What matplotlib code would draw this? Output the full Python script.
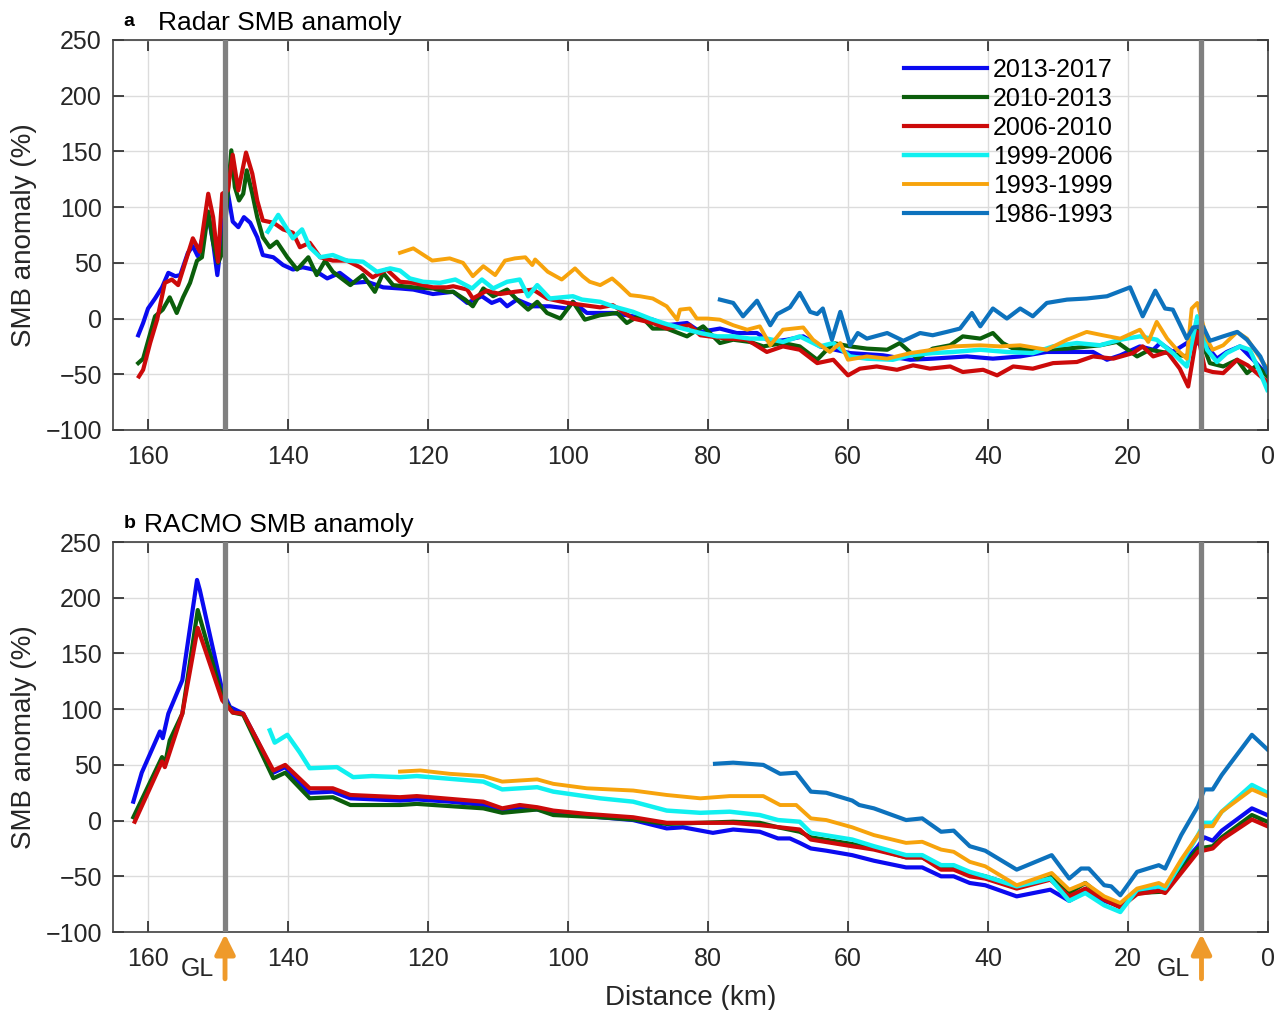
import matplotlib
matplotlib.use('agg')
import matplotlib.pyplot as plt

plt.rcParams['font.family'] = ['Liberation Sans', 'DejaVu Sans']

# ---- panel a: radar SMB anomaly (%) vs distance (km) ----
radar_1317_km = [161.4, 160.7, 160.0, 159.0, 158.0, 157.1, 156.1, 155.4, 154.3, 153.6, 152.9, 151.4, 150.7, 150.1, 149.3,
                 148.6, 147.9, 147.1, 146.3, 145.4, 144.4, 143.6, 142.1, 140.7, 139.3, 137.9, 136.4, 134.4, 132.6, 130.7,
                 128.7, 126.4, 124.0, 122.1, 119.3,
                 116.4, 114.4, 112.3, 110.9, 109.7, 108.7, 107.3, 105.0, 102.6, 100.1, 99.3, 97.3, 93.6, 90.7, 87.9,
                 85.9, 83.0, 81.1, 78.3, 75.9, 73.0, 71.1, 68.7, 66.4, 64.0,
                 59.7, 55.0, 51.1, 47.9, 43.0, 39.3, 35.4, 31.6, 28.7, 25.0, 23.0, 21.1, 18.3, 16.4, 15.4, 13.6, 11.1,
                 8.7, 7.3, 5.9, 4.0, 2.1, 0.1]
radar_1317 = [-15, -4, 9, 18, 28, 41, 38, 39, 59, 65, 56, 93, 68, 39, 82,
              113, 87, 82, 91, 86, 73, 57, 55, 48, 44, 46, 44, 36, 41, 32,
              33, 28, 27, 26, 22,
              24, 14, 20, 14, 17, 11, 17, 11, 11, 9, 15, 5, 5, 2, -1,
              -6, -4, -12, -9, -13, -13, -21, -19, -16, -25,
              -31, -33, -37, -36, -34, -36, -34, -30, -30, -30, -37, -33, -25, -28, -22, -30, -20,
              -25, -36, -30, -25, -37, -51]

radar_1013_km = [161.4, 160.7, 159.0, 157.9, 156.9, 155.9, 155.0, 154.0, 153.0, 152.3, 151.4, 150.7, 150.0, 149.3,
                 148.1, 147.6, 147.0, 146.4, 145.9, 145.1, 144.4, 143.6, 142.6, 141.6, 140.1, 138.7, 137.1, 135.9,
                 134.7, 133.6, 131.1, 129.3, 127.6, 126.4, 125.0, 122.1, 119.3, 117.3,
                 116.4, 114.7, 113.6, 112.1, 110.7, 108.7, 107.3, 105.7, 104.4, 103.0, 101.1, 99.3, 97.6, 95.4, 93.0,
                 91.6, 89.7, 87.9, 85.9, 83.0, 80.7, 78.3, 76.4, 74.0, 72.1, 69.3, 66.9, 64.4, 62.1, 59.7,
                 57.3, 54.4, 52.6, 50.1, 47.9, 45.4, 43.6, 41.1, 39.3, 37.9, 36.4, 33.6, 28.7, 24.0, 21.6, 18.7,
                 16.9, 11.6, 10.1, 8.3, 6.4, 4.4, 3.0, 1.6, 0.1]
radar_1013 = [-40, -36, 2, 8, 19, 5, 19, 32, 52, 55, 96, 68, 50, 60,
              151, 118, 106, 112, 133, 112, 91, 73, 64, 69, 55, 44, 55, 39,
              52, 42, 30, 39, 24, 41, 30, 28, 27, 24,
              24, 17, 11, 27, 20, 26, 17, 8, 15, 5, 0, 15, -1, 3, 5,
              -4, 3, -9, -9, -16, -7, -22, -19, -21, -25, -22, -25, -37, -22, -25,
              -27, -28, -22, -36, -27, -24, -16, -18, -13, -22, -27, -28, -27, -24, -21, -34,
              -28, -34, -10, -40, -43, -37, -49, -42, -52]

radar_0610_km = [161.3, 160.7, 159.7, 158.7, 157.6, 156.6, 155.7, 154.7, 153.6, 152.6, 151.4, 150.7, 150.0, 149.4,
                 148.6, 147.9, 147.1, 146.0, 145.1, 144.4, 143.6, 142.1, 140.7, 139.3, 138.3, 136.9, 135.4, 133.6,
                 131.6, 129.7, 127.9, 125.9, 124.0, 122.1, 119.3, 117.3,
                 116.4, 114.4, 113.6, 111.6, 109.7, 107.6, 105.0, 103.0, 100.1, 95.4, 93.6, 90.7, 87.9, 85.9, 82.6,
                 81.1, 77.3, 74.4, 71.6, 69.3, 66.9, 64.4, 62.1, 60.0,
                 58.3, 55.9, 53.0, 50.7, 48.3, 45.4, 43.6, 40.7, 38.7, 36.4, 33.6, 30.7, 27.3, 25.0, 22.1, 19.3,
                 17.9, 16.4, 14.4, 12.6, 11.4, 10.1, 9.0, 7.9, 6.4, 4.4, 2.9, 0.1]
radar_0610 = [-52, -46, -22, -1, 32, 35, 30, 50, 72, 60, 112, 91, 51, 112,
              115, 147, 115, 149, 130, 106, 88, 86, 80, 77, 64, 68, 55, 52,
              52, 46, 37, 44, 33, 32, 28, 28,
              29, 26, 18, 25, 22, 24, 26, 18, 14, 10, 12, 0, -4, -9, -6,
              -15, -18, -19, -30, -25, -28, -40, -37, -51,
              -45, -43, -46, -42, -45, -43, -48, -46, -51, -43, -45, -40, -39, -34, -36, -31,
              -25, -34, -30, -45, -61, -12, -46, -48, -49, -37, -42, -57]

radar_9906_km = [142.9, 141.4, 140.1, 139.3, 138.0, 136.9, 135.4, 133.6, 131.6, 129.3, 127.3, 125.4, 124.0,
                 122.6, 120.7, 118.3, 116.1, 113.7, 112.3, 110.7, 108.7, 106.9, 105.7, 104.4, 102.6, 99.3, 98.0,
                 95.4, 93.6, 90.7, 87.9, 85.9, 83.6, 81.1, 78.7, 76.4, 74.0, 71.6, 69.3, 66.9, 64.0, 62.1,
                 59.7, 57.3, 53.6, 51.1, 47.9, 45.0, 41.1, 37.3, 33.6, 30.7, 27.3, 24.0, 21.1, 18.3, 15.9, 13.6,
                 11.6, 10.1, 8.7, 7.3, 5.9, 4.0, 2.6, 1.1, 0.1]
radar_9906 = [78, 93, 80, 72, 80, 64, 55, 57, 52, 51, 42, 45, 43,
              36, 33, 32, 35, 27, 35, 27, 33, 35, 20, 30, 18, 20, 17,
              15, 11, 6, -1, -5, -9, -13, -16, -16, -18, -18, -21, -16, -25, -22,
              -34, -36, -37, -33, -31, -30, -28, -30, -31, -25, -22, -24, -19, -16, -19, -31,
              -43, 2, -28, -39, -31, -25, -28, -49, -64]

radar_9399_km = [124.0, 122.1, 119.4, 116.9, 115.0, 113.6, 112.1, 110.4, 109.0, 107.6, 106.1, 105.1, 104.7,
                 102.9, 100.9, 99.0, 97.9, 96.9, 95.4, 93.7, 92.6, 91.1, 89.7, 87.9, 85.9, 84.4, 84.0, 82.6,
                 81.6, 80.1, 78.3, 76.4, 74.4, 72.6, 71.1, 69.3, 66.4, 65.0, 62.6, 61.1, 60.0,
                 57.3, 54.4, 51.1, 47.9, 45.0, 41.1, 38.3, 35.4, 31.6, 28.7, 25.9, 23.6, 21.1, 18.3, 17.1, 15.9,
                 14.4, 13.0, 11.6, 10.9, 10.1, 8.7, 7.9, 6.4, 4.4, 3.0, 1.6, 0.1]
radar_9399 = [59, 63, 52, 54, 50, 38, 47, 39, 52, 54, 55, 48, 53,
              42, 35, 45, 38, 33, 30, 36, 30, 21, 20, 18, 11, -1, 8, 9,
              0, 0, -1, -6, -10, -7, -24, -10, -8, -19, -30, -22, -37,
              -34, -36, -31, -28, -25, -24, -25, -24, -28, -19, -12, -15, -18, -10, -21, -3,
              -18, -28, -36, 9, 14, -19, -28, -24, -12, -18, -31, -45]

radar_8693_km = [78.3, 76.4, 75.0, 73.0, 71.1, 70.1, 68.3, 66.9, 65.4, 64.4, 63.6, 62.3, 61.1,
                 59.7, 58.6, 57.3, 54.4, 52.1, 49.7, 47.9, 45.9, 44.0, 42.3, 41.1, 39.3, 37.3, 35.4, 33.6,
                 31.6, 28.7, 25.9, 23.0, 19.7, 17.9, 16.1, 14.7, 13.6, 11.6, 10.7, 9.3, 8.3, 6.4, 4.4, 3.0,
                 1.1, 0.1]
radar_8693 = [17, 14, 2, 16, -6, 4, 10, 23, 6, 4, 9, -19, 6,
              -24, -13, -18, -13, -20, -13, -15, -12, -9, 5, -7, 9, 0, 9, 2,
              14, 17, 18, 20, 28, 2, 25, 9, 8, -18, -8, -7, -20, -16, -12, -19,
              -34, -48]

# ---- panel b: RACMO SMB anomaly (%) ----
racmo_1317_km = [162.1, 160.9, 158.3, 157.9, 157.1, 155.7, 155.1, 153.0, 152.6, 149.4, 148.3, 146.4, 144.4,
                 142.1, 140.4, 138.7, 136.9, 133.6, 131.1, 124.0, 121.6, 116.9,
                 112.1, 109.4, 106.9, 104.4, 102.1, 95.4, 90.7, 85.9, 83.6, 79.3, 76.4, 72.6, 70.0, 68.3, 66.9,
                 65.3, 63.1, 59.4, 56.3, 51.7, 49.4, 46.7, 44.9, 42.6, 40.4, 35.9, 31.1, 28.4, 26.1, 23.4, 21.1,
                 18.7, 15.6, 14.7, 12.4, 10.0, 9.1, 7.9, 6.6, 2.3, 0.1]
racmo_1317 = [17, 43, 80, 74, 96, 117, 126, 216, 207, 117, 102, 96, 72,
              43, 48, 36, 25, 26, 20, 18, 19, 17,
              14, 9, 11, 10, 7, 3, 0.5, -7, -6, -11, -8, -10, -16, -16, -20,
              -25, -27, -31, -36, -42, -42, -50, -50, -56, -58, -68, -62, -72, -64, -72, -77,
              -65, -59, -61, -40, -23, -15, -18, -9, 11, 5]

racmo_1013_km = [162.1, 158.0, 157.6, 156.9, 155.1, 152.9, 149.4, 147.9, 146.4, 142.1, 140.4, 136.9, 133.6,
                 131.1, 124.0, 121.6, 112.1, 109.4, 104.4, 102.1, 95.4, 90.7, 85.9, 76.4, 72.6, 70.0, 66.9,
                 65.3, 59.4, 56.3, 51.7, 49.4, 46.7, 44.9, 42.6, 40.4, 35.9, 31.1, 28.4, 26.1, 23.4, 21.1,
                 18.7, 15.6, 14.7, 12.4, 10.0, 7.9, 6.6, 2.3, 0.1]
racmo_1013 = [3, 57, 50, 72, 96, 189, 111, 97, 95, 38, 43, 20, 21,
              14, 14, 15, 11, 7, 10, 5, 3, 1, -3, -1, -2, -6, -10,
              -15, -21, -25, -33, -33, -41, -43, -47, -50, -59, -50, -65, -56, -70, -76,
              -65, -64, -64, -44, -25, -23, -15, 5, -1]

racmo_0610_km = [161.9, 158.0, 157.6, 155.1, 152.9, 149.4, 147.9, 146.4, 142.1, 140.4, 136.9, 133.6, 131.1,
                 124.0, 121.6, 112.1, 109.4, 106.9, 104.4, 102.1, 97.3, 90.7, 85.9, 81.1, 76.4, 72.6, 66.9,
                 65.3, 59.4, 56.3, 51.7, 49.4, 46.7, 44.9, 42.6, 40.4, 35.9, 31.1, 28.4, 26.1, 23.4, 21.1,
                 18.7, 15.6, 14.7, 12.4, 10.0, 7.9, 6.6, 2.3, 0.1]
racmo_0610 = [-1, 53, 48, 96, 173, 108, 97, 96, 45, 50, 29, 29, 23,
              21, 22, 17, 11, 14, 12, 9, 6, 3, -2, -2, -2, -4, -8,
              -17, -23, -26, -33, -33, -44, -44, -50, -52, -61, -53, -68, -61, -71, -78,
              -66, -63, -65, -47, -28, -25, -17, 1, -5]

racmo_9906_km = [142.6, 141.9, 140.1, 138.3, 136.9, 133.0, 130.7, 128.0, 124.0, 121.6, 112.1, 109.4, 104.4,
                 102.1, 95.4, 90.7, 85.9, 81.1, 76.9, 72.6, 70.0, 66.9,
                 65.3, 59.4, 56.3, 51.7, 49.4, 46.7, 44.9, 42.6, 40.4, 35.9, 31.1, 28.4, 26.1, 23.4, 21.1,
                 18.7, 15.6, 14.7, 12.4, 10.0, 9.1, 7.9, 6.6, 2.3, 0.1]
racmo_9906 = [81, 70, 77, 61, 47, 48, 39, 40, 39, 40, 35, 28, 30,
              26, 20, 17, 9, 7, 8, 5, 0.5, -1,
              -11, -17, -23, -31, -31, -40, -40, -46, -50, -59, -52, -72, -65, -76, -82,
              -62, -59, -61, -38, -13, -2, -2, 8, 32, 25]

racmo_9399_km = [124.0, 121.1, 116.9, 112.1, 109.4, 104.4, 102.1, 97.3, 90.7, 85.9, 81.1, 76.9, 72.1,
                 69.7, 67.4, 65.3, 63.1, 59.4, 56.3, 51.7, 49.4, 46.7, 44.9, 42.6, 40.4, 35.9, 30.9, 28.4,
                 26.1, 23.4, 21.1, 18.7, 15.6, 14.7, 12.4, 10.0, 9.1, 7.9, 6.6, 2.3, 0.1]
racmo_9399 = [44, 45, 42, 40, 35, 37, 33, 29, 27, 23, 20, 22, 22,
              14, 14, 2, 0.5, -6, -13, -20, -19, -26, -28, -37, -41, -58, -47, -62,
              -56, -68, -74, -61, -56, -59, -35, -13, -5, -5, 8, 28, 22]

racmo_8693_km = [79.0, 76.4, 72.1, 69.7, 67.4, 65.3, 63.1, 59.4, 58.4, 56.3, 51.7, 49.4, 46.7, 44.9, 42.6,
                 40.4, 35.9, 30.9, 28.4, 26.7, 25.6, 23.4, 22.4, 21.1, 18.7, 15.6, 14.7, 12.4, 10.0, 9.1,
                 7.9, 6.6, 2.3, 0.1]
racmo_8693 = [51, 52, 50, 42, 43, 26, 25, 18, 14, 11, 0.5, 2, -10, -9, -23,
              -27, -44, -31, -52, -43, -43, -58, -59, -67, -46, -40, -43, -13, 13, 28,
              28, 41, 77, 64]

periods = ['2013-2017', '2010-2013', '2006-2010', '1999-2006', '1993-1999', '1986-1993']
colors = ['#0a0af0', '#0b5e0b', '#cc0a0a', '#10f0f0', '#f7a30c', '#0d72bd']
widths = [3.0, 3.0, 3.0, 3.2, 2.8, 3.0]
gl_km = [149.0, 9.5]

radar = [(radar_1317_km, radar_1317), (radar_1013_km, radar_1013), (radar_0610_km, radar_0610),
         (radar_9906_km, radar_9906), (radar_9399_km, radar_9399), (radar_8693_km, radar_8693)]
racmo = [(racmo_1317_km, racmo_1317), (racmo_1013_km, racmo_1013), (racmo_0610_km, racmo_0610),
         (racmo_9906_km, racmo_9906), (racmo_9399_km, racmo_9399), (racmo_8693_km, racmo_8693)]

fig = plt.figure(figsize=(12.83, 10.10), dpi=100)
ax1 = fig.add_axes([0.0881, 0.5743, 0.9002, 0.3861])
ax2 = fig.add_axes([0.0881, 0.0772, 0.9002, 0.3861])

for ax, series in ((ax1, radar), (ax2, racmo)):
    for (km, val), lab, c, lw in zip(series, periods, colors, widths):
        ax.plot(km, val, color=c, lw=lw, label=lab, solid_joinstyle='round')
    for g in gl_km:
        ax.axvline(g, color='#808080', lw=3.8, zorder=5)
    ax.set_xlim(165, 0)
    ax.set_ylim(-100, 250)
    ax.set_xticks(range(0, 161, 20))
    ax.set_yticks(range(-100, 251, 50))
    ax.grid(True, color='#dcdcdc', lw=1.0)
    ax.set_axisbelow(True)
    ax.tick_params(direction='in', length=8, width=1.2, top=True, right=True,
                   labelsize=18, colors='#262626', pad=8)
    ax.tick_params(axis='x', pad=11)
    for s in ax.spines.values():
        s.set_color('#404040')
        s.set_linewidth(1.2)
    ax.set_ylabel('SMB anomaly (%)', fontsize=20, color='#262626', labelpad=6)

ax1.text(0.009, 1.025, 'a', transform=ax1.transAxes, fontsize=14, fontweight='bold', va='bottom')
ax1.text(0.039, 1.012, 'Radar SMB anamoly', transform=ax1.transAxes, fontsize=19, va='bottom')
ax2.text(0.009, 1.025, 'b', transform=ax2.transAxes, fontsize=14, fontweight='bold', va='bottom')
ax2.text(0.027, 1.012, 'RACMO SMB anamoly', transform=ax2.transAxes, fontsize=19, va='bottom')

leg = ax1.legend(loc='upper left', bbox_to_anchor=(0.685, 0.955), frameon=False, fontsize=18,
                 handlelength=3.3, handletextpad=0.25, labelspacing=0.2, borderaxespad=0, borderpad=0)

ax2.set_xlabel('Distance (km)', fontsize=20, color='#262626', labelpad=10)

# grounding line arrows under panel b
for g in gl_km:
    ax2.annotate('', xy=(g, -0.005), xytext=(g, -0.12), xycoords=ax2.get_xaxis_transform(),
                 textcoords=ax2.get_xaxis_transform(), annotation_clip=False,
                 arrowprops=dict(arrowstyle='-|>', color='#ef9a2a', lw=3.5, mutation_scale=30,
                                 shrinkA=0, shrinkB=0))
    ax2.text(g + 4.0, -0.095, 'GL', transform=ax2.get_xaxis_transform(), fontsize=18,
             ha='center', va='center', color='#262626')

fig.savefig('out.png', dpi=100)
